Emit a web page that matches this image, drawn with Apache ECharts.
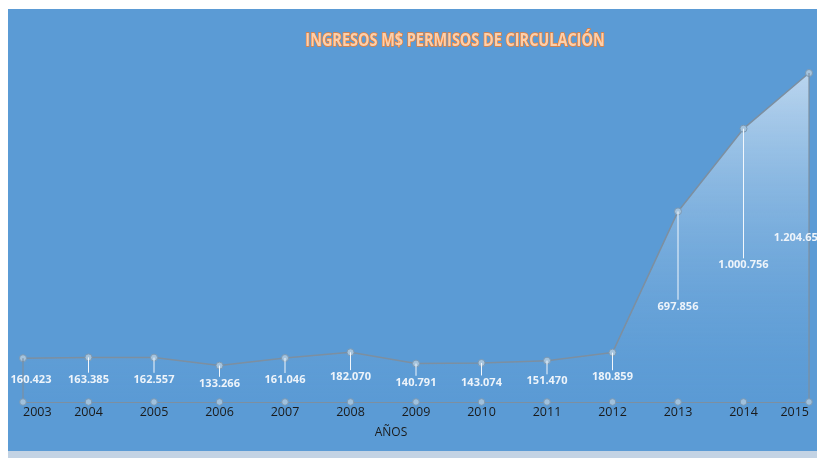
<!DOCTYPE html>
<html>
<head>
<meta charset="utf-8">
<script src="https://cdn.jsdelivr.net/npm/echarts@6/dist/echarts.min.js"></script>
<style>
  html, body { margin: 0; padding: 0; background: #fff; }
  #wrap { position: relative; width: 817px; height: 458px; overflow: hidden; }
  #panel { position: absolute; left: 8px; top: 9px; width: 809px; height: 442px; background: #5b9bd5; }
  #strip { position: absolute; left: 8px; top: 451px; width: 809px; height: 7px; background: #c3d3e4; }
  #chart { position: absolute; left: 0; top: 0; width: 817px; height: 458px; }
</style>
</head>
<body>
<div id="wrap">
  <div id="panel"></div>
  <div id="strip"></div>
  <div id="chart"></div>
</div>
<script>
// años y ingresos (M$)
const years = ["2003", "2004", "2005", "2006", "2007", "2008", "2009",
  "2010", "2011", "2012", "2013", "2014", "2015"];
const ingresos = [160423, 163385, 162557, 133266, 161046, 182070, 140791,
  143074, 151470, 180859, 697856, 1000756, 1204650];
const titulo = "INGRESOS M$ PERMISOS DE CIRCULACIÓN";

function fmt(v) {
  return String(v).replace(/\B(?=(\d{3})+(?!\d))/g, ".");
}

const chart = echarts.init(document.getElementById("chart"));

function renderDrop(params, api) {
  const i = api.value(0);
  const v = api.value(1);
  const p = api.coord([i, v]);
  const b = api.coord([i, 0]);
  const mid = (p[1] + b[1]) / 2;
  const last = i === years.length - 1;
  const edge = i === 0 || last;
  const children = [];
  if (edge) {
    children.push({
      type: "line",
      shape: { x1: p[0], y1: p[1], x2: b[0], y2: b[1] },
      style: { stroke: "#7d8fa0", lineWidth: 1.2 },
    });
  } else {
    children.push({
      type: "line",
      shape: { x1: p[0], y1: p[1], x2: p[0], y2: mid - 7 },
      style: { stroke: "#f2f7fc", lineWidth: 1 },
    });
  }
  let dx = 0;
  if (i === 0) dx = 8;
  if (last) dx = -10;
  children.push({
    type: "text",
    x: p[0] + dx,
    y: mid,
    style: {
      text: fmt(v),
      fill: "#eef4fa",
      font: "bold 11px 'Open Sans', sans-serif",
      align: "center",
      verticalAlign: "middle",
    },
  });
  children.push({
    type: "circle",
    shape: { cx: b[0], cy: b[1], r: 3.3 },
    style: { fill: "#9fc0dc", stroke: "#7b98b2", lineWidth: 1 },
  });
  return { type: "group", children };
}

chart.setOption({
  animation: false,
  backgroundColor: "transparent",
  graphic: [
    {
      type: "text",
      x: 455,
      y: 41,
      scaleX: 0.85,
      z: 10,
      style: {
        text: titulo,
        align: "center",
        verticalAlign: "middle",
        fill: "#fbd0ad",
        stroke: "#ed7d31",
        lineWidth: 1.5,
        font: "bold 17px 'Open Sans', sans-serif",
        shadowColor: "rgba(237,125,49,0.55)",
        shadowBlur: 3,
        shadowOffsetY: 2,
      },
    },
  ],
  grid: { left: 23, right: 8, top: 73, bottom: 56, outerBoundsMode: "none", containLabel: false },
  xAxis: {
    type: "category",
    data: years,
    boundaryGap: false,
    name: "AÑOS",
    nameLocation: "middle",
    nameGap: 25,
    nameTextStyle: { color: "#1a1a1a", fontSize: 12, fontFamily: "'Open Sans', sans-serif", padding: [0, 50, 0, 0] },
    axisLine: { lineStyle: { color: "#7d8fa0", width: 1.2 } },
    axisTick: { show: false },
    axisLabel: {
      color: "#1a1a1a",
      fontSize: 12.5,
      margin: 4,
      fontFamily: "'Open Sans', sans-serif",
      alignMinLabel: "left",
      alignMaxLabel: "right",
    },
  },
  yAxis: {
    type: "value",
    min: 0,
    max: "dataMax",
    show: false,
    splitLine: { show: false },
  },
  series: [
    {
      type: "line",
      data: ingresos,
      symbol: "circle",
      symbolSize: 7,
      itemStyle: { color: "#a5c4de", borderColor: "#7b98b2", borderWidth: 1 },
      lineStyle: { color: "#7d8fa0", width: 1.5 },
      areaStyle: {
        color: new echarts.graphic.LinearGradient(0, 0, 0, 1, [
          { offset: 0, color: "rgba(235,243,251,0.95)" },
          { offset: 1, color: "rgba(91,155,213,0.2)" },
        ]),
      },
      z: 2,
    },
    {
      type: "custom",
      data: ingresos.map((v, i) => [i, v]),
      renderItem: renderDrop,
      z: 3,
      silent: true,
    },
  ],
});
</script>
</body>
</html>
